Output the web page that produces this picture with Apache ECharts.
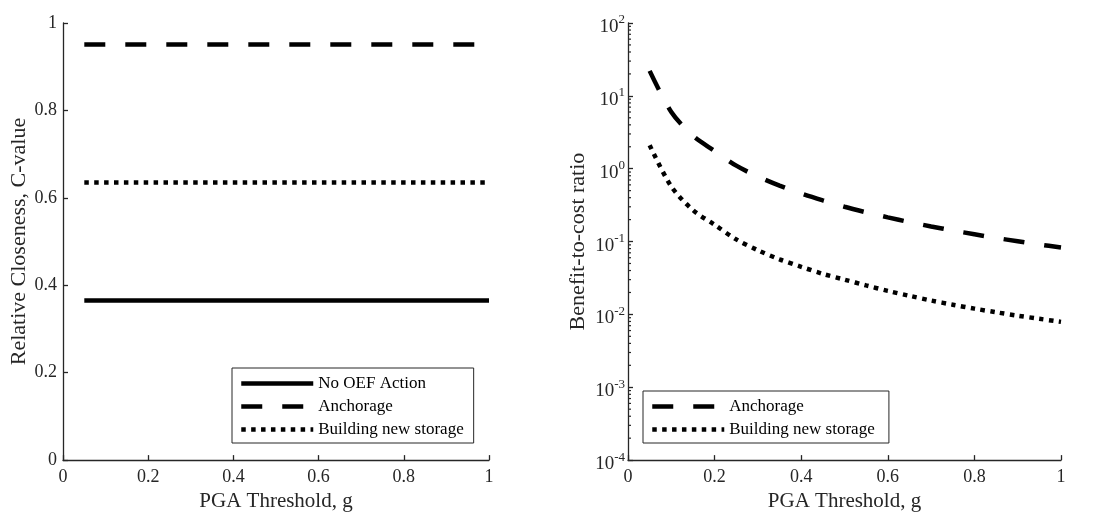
<!DOCTYPE html>
<html lang="en">
<head>
<meta charset="utf-8">
<title>C-value and benefit-to-cost ratio</title>
<script src="https://cdn.jsdelivr.net/npm/echarts@6/dist/echarts.min.js"></script>
<style>
  html, body { margin: 0; padding: 0; background: #fff; }
  #main { width: 1094px; height: 517px; }
</style>
</head>
<body>
<div id="main"></div>
<script type="text/javascript">
// PGA thresholds (g)
const pga = [0.05, 0.10, 0.15, 0.20, 0.25, 0.30, 0.35, 0.40, 0.45, 0.50,
             0.55, 0.60, 0.65, 0.70, 0.75, 0.80, 0.85, 0.90, 0.95, 1.00];

// left panel: relative closeness (constant over PGA)
const cNoAction = 0.365;
const cAnchorage = 0.951;
const cStorage = 0.635;

// right panel: benefit-to-cost ratio
const bcrAnchorage = [22, 6.0, 2.83, 1.75, 1.10, 0.78, 0.585, 0.456, 0.367, 0.30,
                      0.252, 0.215, 0.185, 0.161, 0.142, 0.126, 0.112, 0.101, 0.091, 0.083];
const bcrStorage = [2.1, 0.57, 0.27, 0.17, 0.107, 0.076, 0.057, 0.045, 0.036, 0.030,
                    0.025, 0.021, 0.018, 0.0155, 0.0136, 0.012, 0.0107, 0.0096, 0.0087, 0.0079];

// minor ticks of the log axis (2..9 in each decade)
const logMinor = [];
for (let n = -4; n < 2; n++) {
  for (let k = 2; k < 10; k++) logMinor.push(k * Math.pow(10, n));
}

const txt = '#262626';
const font = 'Liberation Serif';

function pairs(ys) {
  return pga.map((x, i) => [x, ys[i]]);
}
function flat(v) {
  return pga.map((x) => [x, v]);
}

const solid = { color: '#000', width: 4.5, type: 'solid', cap: 'butt' };
const dashed = { color: '#000', width: 4.5, type: [21, 20], cap: 'butt' };
const dotted = { color: '#000', width: 4.5, type: [4.5, 5.4], cap: 'butt' };

function xAxisOpt(idx) {
  return {
    gridIndex: idx, type: 'value', min: 0, max: 1, interval: 0.2,
    name: 'PGA Threshold, g', nameLocation: 'middle', nameGap: 27,
    nameTextStyle: { color: txt, fontFamily: font, fontSize: 21 },
    axisLine: { onZero: false, lineStyle: { color: txt, width: 1.3 } },
    axisTick: { inside: true, length: 5, lineStyle: { color: txt, width: 1.3 } },
    axisLabel: { color: txt, fontFamily: font, fontSize: 18, margin: 8,
                 formatter: (v) => String(+v.toFixed(1)) },
    splitLine: { show: false }
  };
}

function legendOpt(left, top, names) {
  return {
    orient: 'vertical', left: left, top: top,
    data: names,
    itemWidth: 72, itemHeight: 17, itemGap: 6,
    padding: [7, 10, 5, 7],
    borderColor: txt, borderWidth: 1,
    itemStyle: { opacity: 0 },
    lineStyle: { width: 4.5 },
    textStyle: { color: '#000', fontFamily: font, fontSize: 17 },
    selectedMode: false
  };
}

let Chart = echarts.init(document.getElementById('main'));

let option = {
  animation: false,
  backgroundColor: '#fff',
  grid: [
    { left: 63, right: 605, top: 23, bottom: 54 },
    { left: 628, right: 33, top: 23, bottom: 54 }
  ],
  xAxis: [xAxisOpt(0), xAxisOpt(1)],
  yAxis: [
    {
      gridIndex: 0, type: 'value', min: 0, max: 1, interval: 0.2,
      name: 'Relative Closeness, C-value', nameLocation: 'middle', nameGap: 29,
      nameTextStyle: { color: txt, fontFamily: font, fontSize: 22 },
      axisLine: { show: true, lineStyle: { color: txt, width: 1.3 } },
      axisTick: { show: true, inside: true, length: 5, lineStyle: { color: txt, width: 1.3 } },
      axisLabel: { color: txt, fontFamily: font, fontSize: 18, margin: 6,
                   formatter: (v) => String(+v.toFixed(1)) },
      splitLine: { show: false }
    },
    {
      gridIndex: 1, type: 'log', logBase: 10, min: 1e-4, max: 100,
      name: 'Benefit-to-cost ratio', nameLocation: 'middle', nameGap: 39,
      nameTextStyle: { color: txt, fontFamily: font, fontSize: 22 },
      axisLine: { show: true, lineStyle: { color: txt, width: 1.3 } },
      axisTick: { show: true, inside: true, length: 5, lineStyle: { color: txt, width: 1.3 } },
      axisLabel: {
        color: txt, fontFamily: font, fontSize: 18, margin: 3,
        formatter: (v) => '{b|10}{sup|' + Math.round(Math.log10(v)) + '}',
        rich: {
          b: { color: txt, fontFamily: font, fontSize: 19, padding: [8, 0, 0, 0] },
          sup: { color: txt, fontFamily: font, fontSize: 13, padding: [0, 0, 6, 0] }
        }
      },
      splitLine: { show: false }
    }
  ],
  legend: [
    legendOpt(232, 368, ['No OEF Action', 'Anchorage', 'Building new storage']),
    legendOpt(643, 391, ['Anchorage ', 'Building new storage '])
  ],
  series: [
    { name: 'No OEF Action', type: 'line', xAxisIndex: 0, yAxisIndex: 0,
      data: flat(cNoAction), showSymbol: false, symbol: 'none', color: '#000', lineStyle: solid },
    { name: 'Anchorage', type: 'line', xAxisIndex: 0, yAxisIndex: 0,
      data: flat(cAnchorage), showSymbol: false, symbol: 'none', color: '#000', lineStyle: dashed },
    { name: 'Building new storage', type: 'line', xAxisIndex: 0, yAxisIndex: 0,
      data: flat(cStorage), showSymbol: false, symbol: 'none', color: '#000', lineStyle: dotted },
    { name: 'Anchorage ', type: 'line', xAxisIndex: 1, yAxisIndex: 1, smooth: 0.3,
      data: pairs(bcrAnchorage), showSymbol: false, symbol: 'none', color: '#000', lineStyle: dashed },
    { name: 'Building new storage ', type: 'line', xAxisIndex: 1, yAxisIndex: 1, smooth: 0.3,
      data: pairs(bcrStorage), showSymbol: false, symbol: 'none', color: '#000', lineStyle: dotted },
    {
      // minor ticks on the log axis, placed through the axis scale
      type: 'custom', xAxisIndex: 1, yAxisIndex: 1, silent: true,
      data: logMinor.map((v) => [0, v]),
      renderItem: (params, api) => {
        const p = api.coord([0, api.value(1)]);
        return { type: 'line', shape: { x1: p[0], y1: p[1], x2: p[0] + 3, y2: p[1] },
                 style: { stroke: txt, lineWidth: 1.2 } };
      }
    }
  ]
};

Chart.setOption(option);
</script>
</body>
</html>
